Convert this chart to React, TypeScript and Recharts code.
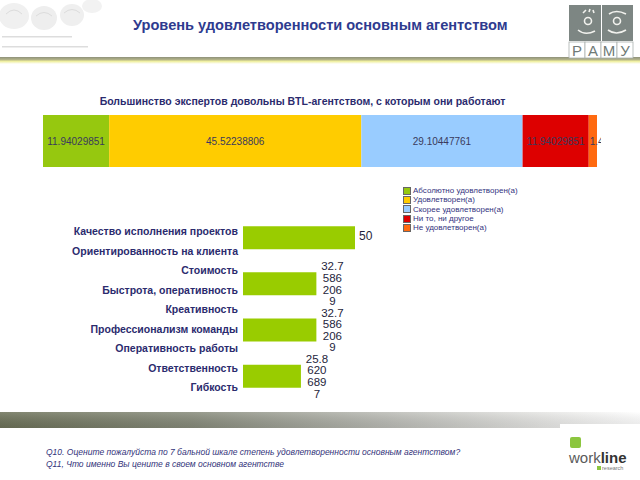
import React from "react";
import { BarChart, Bar, XAxis, YAxis, LabelList } from "recharts";

// ---------- DATA ----------
const titleText = "Уровень удовлетворенности основным агентством";
const subtitleText = "Большинство экспертов довольны BTL-агентством, с которым они работают";

const satisfactionLevels = [
  "Абсолютно удовлетворен(а)",
  "Удовлетворен(а)",
  "Скорее удовлетворен(а)",
  "Ни то, ни другое",
  "Не удовлетворен(а)",
];
const satisfactionValues = [11.94029851, 45.52238806, 29.10447761, 11.94029851, 1.492537313];
const stackCategory = "Все эксперты";

const criteriaLabels = [
  "Качество исполнения проектов",
  "Ориентированность на клиента",
  "Стоимость",
  "Быстрота, оперативность",
  "Креативность",
  "Профессионализм команды",
  "Оперативность  работы",
  "Ответственность",
  "Гибкость",
];
const barCategories = ["Качество исполнения проектов", "Стоимость", "Профессионализм команды", "Ответственность"];
const barValues = [50, 32.75862069, 32.75862069, 25.86206897];

const footerLines = [
  "Q10. Оцените пожалуйста по 7 бальной шкале степень удовлетворенности основным агентством?",
  "Q11, Что именно Вы цените в своем основном агентстве",
];

// ---------- STYLES ----------
const levelColors = ["#96c80f", "#ffcc00", "#99ccff", "#dd0000", "#ff6a10"];
const barGreen = "#99cc00";
const navy = "#2b2b6e";
const FONT = "'Liberation Sans', Arial, sans-serif";

const stackKeys = satisfactionLevels.map((_, i) => `s${i}`);
const stackRow: Record<string, any> = { name: stackCategory };
satisfactionValues.forEach((v, i) => (stackRow[stackKeys[i]] = v));
const stackData = [stackRow];

const barData = barCategories.map((name, i) => ({ name, value: barValues[i] }));
const labelData = criteriaLabels.map((name) => ({ name, none: null as number | null }));

const StackLabel = (props: any) => {
  const { x, y, width, height, value, index } = props;
  const xx = Number(x), yy = Number(y), w = Number(width), h = Number(height);
  const id = `clip-stack-${props.clipKey}-${index}`;
  const s = String(value);
  const fits = s.length * 5.6 < w;
  return (
    <g>
      <defs>
        <clipPath id={id}>
          <rect x={xx} y={yy} width={w + 4} height={h} />
        </clipPath>
      </defs>
      <text
        x={fits ? xx + w / 2 : xx + 1}
        y={yy + h / 2}
        textAnchor={fits ? "middle" : "start"}
        dominantBaseline="central"
        fontSize={10}
        fill="#3a3a5c"
        clipPath={`url(#${id})`}
        fontFamily={FONT}
      >
        {s}
      </text>
    </g>
  );
};

const ValueLabel = (props: any) => {
  const { x, y, width, height, value } = props;
  const xx = Number(x), yy = Number(y), w = Number(width), h = Number(height);
  const s = String(value);
  const cy = yy + h / 2;
  if (!s.includes(".")) {
    return (
      <text x={xx + w + 4} y={cy - 2} dominantBaseline="central" fontSize={12} fill="#1e1e3c" fontFamily={FONT}>
        {s}
      </text>
    );
  }
  const lines: string[] = [s.slice(0, 4)];
  for (let i = 4; i < s.length; i += 3) lines.push(s.slice(i, i + 3));
  const lh = 11.6;
  const start = cy - ((lines.length - 1) * lh) / 2;
  const cx = xx + w + 4 + 12;
  return (
    <g>
      {lines.map((ln, i) => (
        <text
          key={i}
          x={cx}
          y={start + i * lh}
          textAnchor="middle"
          dominantBaseline="central"
          fontSize={11.5}
          fill="#1e1e3c"
          fontFamily={FONT}
        >
          {ln}
        </text>
      ))}
    </g>
  );
};

const Decorations = () => (
  <svg width={640} height={480} style={{ position: "absolute", left: 0, top: 0 }}>
    <defs>
      <linearGradient id="ruleGlow" x1="0" y1="0" x2="0" y2="1">
        <stop offset="0" stopColor="#8e917a" />
        <stop offset="0.4" stopColor="#b5b58a" />
        <stop offset="0.6" stopColor="#eeee9a" />
        <stop offset="1" stopColor="#ffffff" />
      </linearGradient>
      <linearGradient id="bottomBand" x1="0" y1="0" x2="1" y2="0">
        <stop offset="0" stopColor="#6c7158" />
        <stop offset="0.3" stopColor="#868a7a" />
        <stop offset="0.6" stopColor="#b9bab4" />
        <stop offset="0.85" stopColor="#e6e6e4" />
        <stop offset="1" stopColor="#ffffff" />
      </linearGradient>
      <linearGradient id="bandShade" x1="0" y1="0" x2="0" y2="1">
        <stop offset="0" stopColor="#ffffff" stopOpacity="0.15" />
        <stop offset="1" stopColor="#000000" stopOpacity="0.08" />
      </linearGradient>
    </defs>
    {/* left faded logo */}
    <g>
      <ellipse cx={14} cy={16} rx={15} ry={13} fill="#f0f0f0" />
      <ellipse cx={44} cy={18} rx={13} ry={12} fill="#eeeeee" />
      <ellipse cx={72} cy={15} rx={12} ry={11} fill="#efefef" />
      <ellipse cx={92} cy={6} rx={10} ry={7} fill="#f2f2f2" />
      <g fill="none" stroke="#dcdcdc" strokeWidth={1}>
        <path d="M6 14 Q14 6 22 14 M36 16 Q44 9 52 16 M64 13 Q72 6 80 13" />
      </g>
      <rect x={2} y={36} width={70} height={1.5} fill="#dddddd" />
      <rect x={2} y={46} width={86} height={1.5} fill="#dddddd" />
    </g>
    {/* rule under title */}
    <rect x={0} y={57} width={640} height={7} fill="url(#ruleGlow)" />
    {/* right logo */}
    <rect x={569} y={5} width={32} height={36} fill="#7d8683" />
    <rect x={602} y={5} width={31} height={36} fill="#7d8683" />
    <g stroke="#f2f2ee" strokeWidth={1.6} fill="none">
      <circle cx={588} cy={21} r={3.5} />
      <path d="M578 30 Q585 36 595 31" />
      <path d="M583 13 L586 10 M589 12 L590 9 M594 13 L593 10" />
      <circle cx={617} cy={21} r={3.5} />
      <path d="M609 14 Q616 9 626 14" />
      <path d="M608 30 Q616 36 626 30" />
    </g>
    <g stroke="#aab1ae" strokeWidth={0.8} fill="#ffffff">
      <rect x={569} y={42} width={16} height={16} />
      <rect x={585} y={42} width={16} height={16} />
      <rect x={601} y={42} width={16} height={16} />
      <rect x={617} y={42} width={16} height={16} />
    </g>
    <g fontFamily={FONT} fontSize={15} fill="#6f7a77" textAnchor="middle">
      <text x={577} y={56}>Р</text>
      <text x={593} y={56}>А</text>
      <text x={609} y={56}>М</text>
      <text x={625} y={56}>У</text>
    </g>
    {/* bottom band */}
    <rect x={0} y={412} width={640} height={16} fill="url(#bottomBand)" />
    <rect x={0} y={412} width={640} height={16} fill="url(#bandShade)" />
    <rect x={560} y={424} width={80} height={56} fill="#ffffff" />
    {/* workline logo */}
    <rect x={570} y={437} width={11} height={11} rx={2} fill="#8cc63f" />
    <text x={569} y={463} fontFamily={FONT} fontSize={15} fill="#5a5a5a">
      work<tspan fontWeight="bold" fill="#333333">line</tspan>
    </text>
    <rect x={597} y={466} width={4} height={4} fill="#8cc63f" />
    <text x={602} y={470} fontFamily={FONT} fontSize={5.5} fill="#777777">research</text>
  </svg>
);

export default function App() {
  return (
    <div
      style={{
        position: "fixed",
        left: 0,
        top: 0,
        width: 640,
        height: 480,
        background: "#ffffff",
        overflow: "hidden",
        fontFamily: FONT,
      }}
    >
      <Decorations />
      <div
        style={{
          position: "absolute",
          left: 133,
          top: 17,
          fontSize: 14.6,
          fontWeight: "bold",
          color: "#2e3b8f",
          whiteSpace: "nowrap",
        }}
      >
        {titleText}
      </div>
      <div
        style={{
          position: "absolute",
          left: 0,
          width: 605,
          top: 95,
          textAlign: "center",
          fontSize: 10.5,
          fontWeight: "bold",
          color: navy,
          whiteSpace: "nowrap",
        }}
      >
        {subtitleText}
      </div>

      {/* stacked bar */}
      <div style={{ position: "absolute", left: 0, top: 115 }}>
        <BarChart
          width={640}
          height={52}
          data={stackData}
          layout="vertical"
          margin={{ top: 0, right: 43, left: 43, bottom: 0 }}
          barCategoryGap={0}
        >
          <XAxis type="number" domain={[0, 100]} hide />
          <YAxis type="category" dataKey="name" hide />
          {stackKeys.map((k, i) => (
            <Bar key={k} dataKey={k} name={satisfactionLevels[i]} stackId="a" fill={levelColors[i]} isAnimationActive={false}>
              <LabelList dataKey={k} content={(p: any) => <StackLabel {...p} clipKey={k} />} />
            </Bar>
          ))}
        </BarChart>
      </div>

      {/* legend */}
      <div style={{ position: "absolute", left: 403, top: 186 }}>
        {satisfactionLevels.map((name, i) => (
          <div key={name} style={{ display: "flex", alignItems: "center", height: 9.3 }}>
            <div
              style={{
                width: 6,
                height: 6,
                background: levelColors[i],
                border: "0.5px solid #666",
                marginRight: 2,
              }}
            />
            <span style={{ fontSize: 8, color: "#333380", lineHeight: "9px", whiteSpace: "nowrap" }}>{name}</span>
          </div>
        ))}
      </div>

      {/* category labels (axis of criteria) */}
      <div style={{ position: "absolute", left: 0, top: 200 }}>
        <BarChart
          width={480}
          height={210}
          data={labelData}
          layout="vertical"
          margin={{ top: 22, right: 13, left: 8, bottom: 13 }}
        >
          <XAxis type="number" domain={[0, 100]} hide />
          <YAxis
            type="category"
            dataKey="name"
            interval={0}
            width={235}
            axisLine={false}
            tickLine={false}
            tickSize={0}
            tickMargin={5}
            tick={{ fontSize: 10.5, fill: navy, fontWeight: "bold", fontFamily: FONT }}
          />
          <Bar dataKey="none" fill="none" isAnimationActive={false} />
        </BarChart>
      </div>

      {/* horizontal bars */}
      <div style={{ position: "absolute", left: 0, top: 200 }}>
        <BarChart
          width={480}
          height={210}
          data={barData}
          layout="vertical"
          margin={{ top: 14.6, right: 13, left: 243, bottom: 10.6 }}
          barCategoryGap="25%"
        >
          <XAxis type="number" domain={[0, 100]} hide />
          <YAxis type="category" dataKey="name" hide />
          <Bar dataKey="value" fill={barGreen} isAnimationActive={false}>
            <LabelList dataKey="value" content={ValueLabel} />
          </Bar>
        </BarChart>
      </div>

      {/* footer */}
      <div
        style={{
          position: "absolute",
          left: 46,
          top: 446,
          fontSize: 8.5,
          fontStyle: "italic",
          color: "#33337a",
          lineHeight: "12px",
          whiteSpace: "nowrap",
        }}
      >
        {footerLines.map((l) => (
          <div key={l}>{l}</div>
        ))}
      </div>
    </div>
  );
}
